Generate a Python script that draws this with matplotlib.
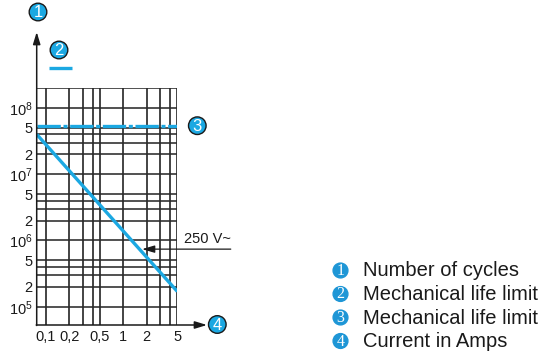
import numpy as np
import matplotlib
matplotlib.use('Agg')
import matplotlib.pyplot as plt
from matplotlib.patches import Circle

plt.rcParams['font.family'] = ['Liberation Sans', 'DejaVu Sans']
plt.rcParams['mathtext.fontset'] = 'custom'
plt.rcParams['mathtext.rm'] = 'Liberation Sans'

## DATOS

# eje x: corriente (A), escala log
current_ticks = [0.1, 0.2, 0.5, 1, 2, 5]
current_labels = ['0,1', '0,2', '0,5', '1', '2', '5']
current_grid = [0.1, 0.2, 0.3, 0.4, 0.5, 1, 2, 3, 4, 5]

# eje y: numero de ciclos, escala log
cycle_ticks = [1e5, 2e5, 5e5, 1e6, 2e6, 5e6, 1e7, 2e7, 5e7, 1e8]
cycle_labels = [r'$\mathregular{10^5}$', '2', '5', r'$\mathregular{10^6}$', '2', '5',
                r'$\mathregular{10^7}$', '2', '5', r'$\mathregular{10^8}$']
cycle_grid = [1e5, 2e5, 3e5, 4e5, 5e5, 1e6, 2e6, 3e6, 4e6, 5e6,
              1e7, 2e7, 3e7, 4e7, 5e7, 1e8, 2e8]

# curva 250 V~
curve_current = [0.0757, 5.0]
curve_cycles = [4.0e7, 1.7e5]
curve_label = '250 V~'
curve_arrow_at = (1.75, 7.4e5)

# limite de vida mecanica
mech_limit = 5.4e7

legend_labels = ['Number of cycles', 'Mechanical life limit',
                 'Mechanical life limit', 'Current in Amps']

blue = '#1ba8e2'
blue_dark = '#1e96d6'

W, H = 547, 356
fig = plt.figure(figsize=(W / 100, H / 100), dpi=100)

ax = fig.add_axes([36.7 / W, 1 - 325 / H, (177.3 - 36.7) / W, (325 - 88) / H])
ax.set_xscale('log')
ax.set_yscale('log')
ax.set_xlim(0.0757, 5.0)
ax.set_ylim(5.3e4, 2e8)

for x in current_grid:
    ax.axvline(x, color='#1a1a1a', lw=1.15, zorder=1)
for y in cycle_grid:
    ax.axhline(y, color='#2a2a2a', lw=1.15, zorder=1)

for s in ax.spines.values():
    s.set_visible(False)

ax.set_xticks(current_ticks)
ax.set_xticklabels(current_labels)
ax.set_xticks([], minor=True)
ax.set_yticks(cycle_ticks)
ax.set_yticklabels(cycle_labels)
ax.set_yticks([], minor=True)
ax.tick_params(length=0, labelsize=10.5, colors='#1a1a1a')
ax.tick_params(axis='x', pad=3.5)
ax.tick_params(axis='y', pad=3)

ax.plot(curve_current, curve_cycles, color=blue, lw=2.4, solid_capstyle='butt', zorder=3)
dash, = ax.plot([0.0757, 5.0], [mech_limit, mech_limit], color=blue, lw=2.4, zorder=3)
dash.set_dashes((7, 0.8, 1.2, 0.8))

# flecha 250 V~
ax.annotate('', xy=curve_arrow_at, xytext=(24.6, curve_arrow_at[1]),
            xycoords='data', textcoords='data', annotation_clip=False,
            arrowprops=dict(arrowstyle='-|>,head_length=0.75,head_width=0.22',
                            color='#1a1a1a', lw=0.9, shrinkA=0, shrinkB=0))
ax.annotate(curve_label, xy=(1.0, curve_arrow_at[1]), xycoords=('axes fraction', 'data'),
            xytext=(4.5, 2), textcoords='offset points', ha='left', va='bottom',
            fontsize=10.5, color='#1a1a1a', annotation_clip=False)

## CAPA DE DECORACION (coordenadas en pixeles)

ov = fig.add_axes([0, 0, 1, 1])
ov.set_xlim(0, W)
ov.set_ylim(H, 0)
ov.axis('off')

arrow = dict(arrowstyle='-|>,head_length=0.72,head_width=0.22', color='#1a1a1a',
             lw=1.1, shrinkA=0, shrinkB=0)
ov.annotate('', xy=(36.7, 32), xytext=(36.7, 325.5), arrowprops=arrow)
ov.annotate('', xy=(207, 325), xytext=(36.2, 325), arrowprops=arrow)

# segmento de leyenda del limite mecanico
ov.plot([49, 72], [68.3, 68.3], color=blue, lw=2.4, solid_capstyle='butt')


def badge(x, y, n, r=8.8, fs=12, edge='#1a1a1a', face=blue, family=None):
    ov.add_patch(Circle((x, y), r, fc=face, ec=edge, lw=1.0, zorder=5))
    kw = {}
    if family:
        kw['family'] = family
    ov.text(x, y + 0.5, str(n), color='white', ha='center', va='center',
            fontsize=fs, zorder=6, **kw)


badge(38, 12, 1)
badge(59, 50, 2)
badge(197.3, 125.7, 3)
badge(217.3, 324.5, 4)

rows = [270.5, 294, 317.5, 341]
for i, (yy, lab) in enumerate(zip(rows, legend_labels)):
    badge(340.5, yy, i + 1, r=7.4, fs=11.5, edge=blue_dark, face=blue_dark,
          family='Liberation Serif')
    ov.text(363, yy + 0.5, lab, ha='left', va='center', fontsize=14.5, color='#1a1a1a')

fig.savefig('out.png', dpi=100)
